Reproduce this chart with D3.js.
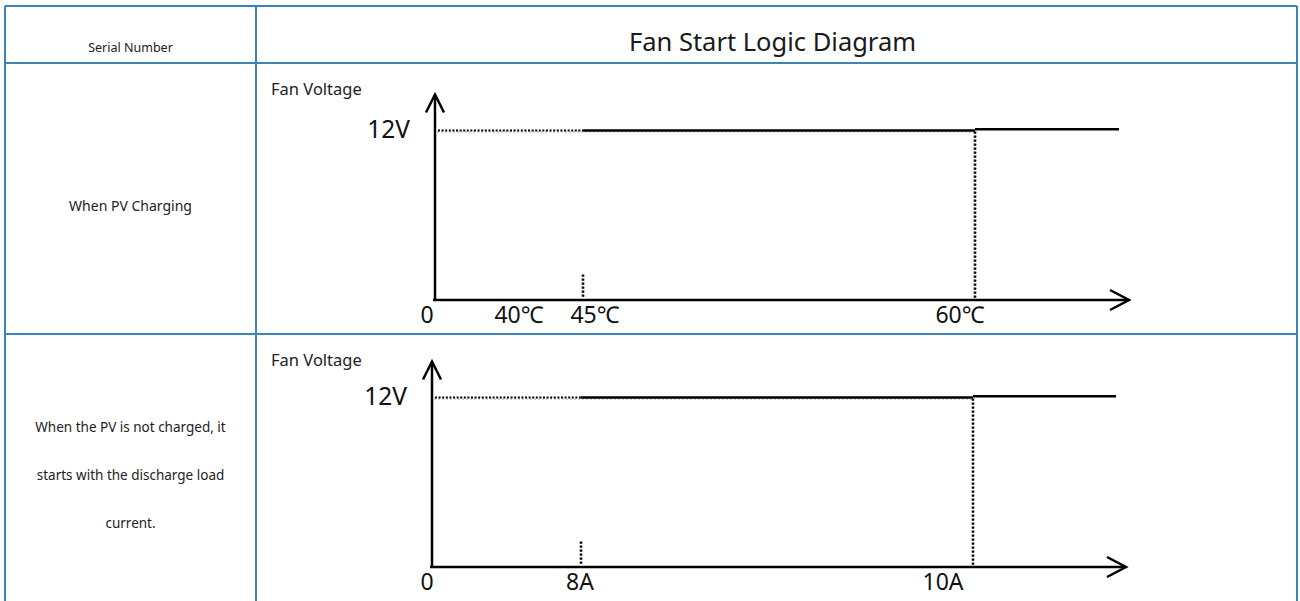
<!DOCTYPE html>
<html>
<head>
<meta charset="utf-8">
<script src="https://cdn.jsdelivr.net/npm/d3@7"></script>
<style>
  html, body { margin: 0; padding: 0; background: #fff; }
  svg { display: block; font-family: "Noto Sans", "Open Sans", sans-serif; }
</style>
</head>
<body>
<div id="chart"></div>
<script>
// table texts
const serialHeader = "Serial Number";
const diagramTitle = "Fan Start Logic Diagram";
const rowLabels = [
    ["When PV Charging"],
    ["When the PV is not charged, it", "starts with the discharge load", "current."]
];

// vertical axis
const yAxisTitle = "Fan Voltage";
const fanVoltage = 12;
const fanVoltageLabel = "12V";

// charging case: temperature
const pvTicks = [0, 40, 45, 60];
const pvTickLabels = ["0", "40℃", "45℃", "60℃"];
const pvStart = 45;
const pvFull = 60;

// not charging case: discharge load current
const loadTicks = [0, 8, 10];
const loadTickLabels = ["0", "8A", "10A"];
const loadStart = 8;
const loadFull = 10;

const width = 1300, height = 601;
const borderColor = "#3d85b8";

const svg = d3.select("#chart")
    .append("svg")
    .attr("width", width)
    .attr("height", height);

// ---- table grid ----
const tableLeft = 5, tableRight = 1297, tableTop = 6, colSplit = 256;
const rowTops = [63, 334];

const grid = svg.append("g")
    .attr("stroke", borderColor)
    .attr("stroke-width", 1.3)
    .attr("shape-rendering", "crispEdges");

[tableTop, ...rowTops].forEach(y => {
    grid.append("line")
        .attr("x1", tableLeft).attr("x2", tableRight)
        .attr("y1", y).attr("y2", y);
});
[tableLeft, colSplit, tableRight].forEach(x => {
    grid.append("line")
        .attr("x1", x).attr("x2", x)
        .attr("y1", tableTop).attr("y2", height);
});

svg.append("text")
    .attr("x", (tableLeft + colSplit) / 2)
    .attr("y", 52)
    .attr("text-anchor", "middle")
    .attr("font-size", "12.5px")
    .attr("fill", "#222")
    .text(serialHeader);

svg.append("text")
    .attr("x", (colSplit + tableRight) / 2 - 4)
    .attr("y", 51)
    .attr("text-anchor", "middle")
    .attr("font-size", "25.5px")
    .attr("fill", "#1a1a1a")
    .text(diagramTitle);

// row descriptions
const rowCenters = [206, 475];
const rowFontSizes = ["14px", "13.5px"];
rowLabels.forEach((lines, r) => {
    const lineHeight = 48;
    const first = rowCenters[r] - (lines.length - 1) * lineHeight / 2;
    svg.append("g")
        .selectAll("text")
        .data(lines)
        .enter()
        .append("text")
        .attr("x", (tableLeft + colSplit) / 2)
        .attr("y", (d, i) => first + i * lineHeight + 5)
        .attr("text-anchor", "middle")
        .attr("font-size", rowFontSizes[r])
        .attr("fill", "#222")
        .text(d => d);
});

// ---- step diagrams ----
const charts = [
    {
        rowTop: rowTops[0],
        origin: [435, 300],
        ticks: pvTicks, labels: pvTickLabels,
        start: pvStart, full: pvFull,
        xDomain: [0, 40, 45, 60, 70],
        xRange: [435, 519, 583, 975, 1129],
        labelDx: [-8, 0, 12, -15]
    },
    {
        rowTop: rowTops[1],
        origin: [432, 567],
        ticks: loadTicks, labels: loadTickLabels,
        start: loadStart, full: loadFull,
        xDomain: [0, 8, 10, 14],
        xRange: [432, 581, 973, 1126],
        labelDx: [-5, -1, -30]
    }
];

function drawChart(c) {
    const g = svg.append("g");
    const [ox, oy] = c.origin;

    const x = d3.scaleLinear().domain(c.xDomain).range(c.xRange);
    const y = d3.scaleLinear().domain([0, fanVoltage]).range([oy, oy - 169.5]);

    const xEnd = x.range()[x.range().length - 1];
    const yTop = y(fanVoltage) - 36;

    // y title
    g.append("text")
        .attr("x", 271)
        .attr("y", c.rowTop + 32)
        .attr("font-size", "16.5px")
        .attr("fill", "#222")
        .text(yAxisTitle);

    // axes with open arrow heads
    const axes = g.append("g")
        .attr("stroke", "#000")
        .attr("stroke-width", 2.5)
        .attr("fill", "none");

    axes.append("line")
        .attr("x1", ox).attr("x2", ox)
        .attr("y1", oy).attr("y2", yTop);
    axes.append("path")
        .attr("d", `M${ox - 9},${yTop + 18} L${ox},${yTop} L${ox + 9},${yTop + 18}`);

    axes.append("line")
        .attr("x1", ox - 2).attr("x2", xEnd)
        .attr("y1", oy).attr("y2", oy);
    axes.append("path")
        .attr("d", `M${xEnd - 19},${oy - 10} L${xEnd},${oy} L${xEnd - 19},${oy + 10}`);

    // 12V label
    g.append("text")
        .attr("x", ox - 25)
        .attr("y", y(fanVoltage) + 7)
        .attr("text-anchor", "end")
        .attr("font-size", "24.5px")
        .attr("fill", "#111")
        .text(fanVoltageLabel);

    // x tick labels
    g.selectAll(".tick-label")
        .data(c.ticks)
        .enter()
        .append("text")
        .attr("class", "tick-label")
        .attr("x", (d, i) => x(d) + c.labelDx[i])
        .attr("y", oy + 23)
        .attr("text-anchor", "middle")
        .attr("font-size", "23px")
        .attr("fill", "#111")
        .text((d, i) => c.labels[i]);

    const vHigh = y(fanVoltage);

    // faint guide under the solid run
    g.append("line")
        .attr("x1", ox + 2).attr("x2", x(c.full))
        .attr("y1", vHigh + 1.5).attr("y2", vHigh + 1.5)
        .attr("stroke", "#aaa")
        .attr("stroke-width", 1)
        .attr("stroke-dasharray", "2 2");

    // dotted 12V level before start
    g.append("line")
        .attr("x1", ox + 3).attr("x2", x(c.start))
        .attr("y1", vHigh).attr("y2", vHigh)
        .attr("stroke", "#000")
        .attr("stroke-width", 2.2)
        .attr("stroke-dasharray", "2 1.6");

    // solid run from start to full
    g.append("line")
        .attr("x1", x(c.start)).attr("x2", x(c.full))
        .attr("y1", vHigh).attr("y2", vHigh)
        .attr("stroke", "#000")
        .attr("stroke-width", 2.6);

    // solid run after full
    g.append("line")
        .attr("x1", x(c.full)).attr("x2", xEnd - 10)
        .attr("y1", vHigh - 1.2).attr("y2", vHigh - 1.2)
        .attr("stroke", "#000")
        .attr("stroke-width", 2.6);

    // dotted drop at full
    g.append("line")
        .attr("x1", x(c.full)).attr("x2", x(c.full))
        .attr("y1", vHigh + 1).attr("y2", oy - 2)
        .attr("stroke", "#000")
        .attr("stroke-width", 2.6)
        .attr("stroke-dasharray", "2.2 1.8");

    // short dotted mark at start
    g.append("line")
        .attr("x1", x(c.start)).attr("x2", x(c.start))
        .attr("y1", y(1.8)).attr("y2", oy - 2)
        .attr("stroke", "#000")
        .attr("stroke-width", 2.6)
        .attr("stroke-dasharray", "2.2 1.8");
}

charts.forEach(drawChart);
</script>
</body>
</html>
